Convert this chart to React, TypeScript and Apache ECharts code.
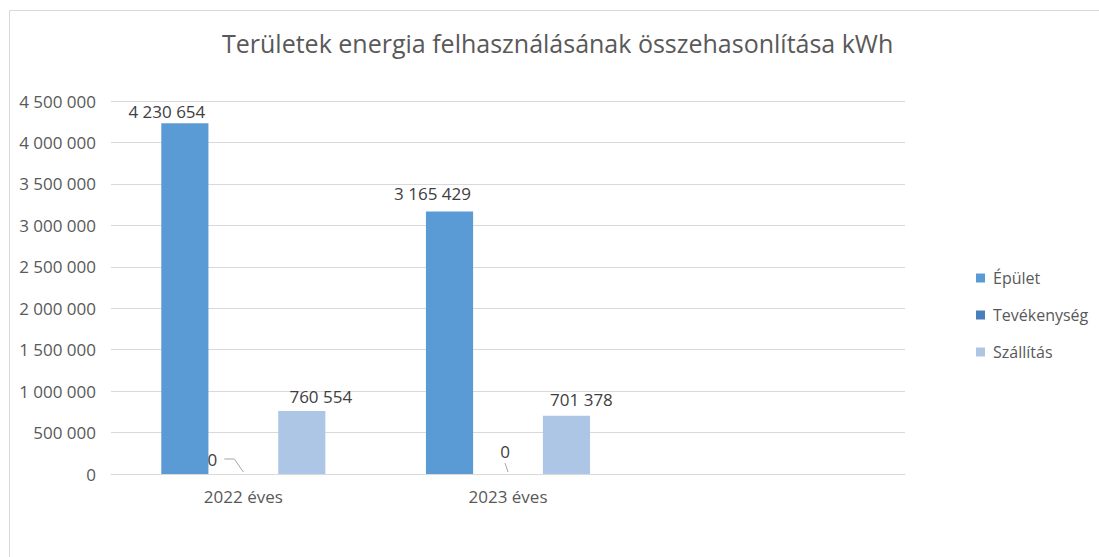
import React, { useEffect, useRef } from "react";
import * as echarts from "echarts";

const categories = ["2022 éves", "2023 éves", ""];
const seriesNames = ["Épület", "Tevékenység", "Szállítás"];
const epulet = [4230654, 3165429, null];
const tevekenyseg = [0, 0, null];
const szallitas = [760554, 701378, null];
const colors = ["#5B9BD5", "#4A7EBB", "#ADC6E6"];
const title = "Területek energia felhasználásának összehasonlítása kWh";

// label placement tweaks (layout, not data)
const epuletLabelOffsets = [[-18, 2], [-17, -5]];
const szallitasLabelOffsets = [[19, -1], [15, -3]];

const fmt = (v: number) => String(Math.round(v)).replace(/\B(?=(\d{3})+(?!\d))/g, " ");

const FONT = "Open Sans";

export default function App() {
  const ref = useRef<HTMLDivElement>(null);
  useEffect(() => {
    const chart = echarts.init(ref.current!, null, { renderer: "svg" });
    const labelStyle = {
      show: true,
      position: "top" as const,
      color: "#404040",
      fontFamily: FONT,
      fontSize: 17,
      formatter: (p: any) => fmt(p.value),
    };
    const withOffsets = (vals: (number | null)[], offs: number[][]) =>
      vals.map((v, i) => (v === null ? null : { value: v, label: { offset: offs[i] } }));
    chart.setOption({
      animation: false,
      color: colors,
      title: {
        text: title,
        left: 217,
        top: 25,
        textStyle: { fontFamily: FONT, fontSize: 25, fontWeight: "normal", color: "#595959" },
      },
      graphic: [
        {
          type: "rect",
          shape: { x: 9.5, y: 10.5, width: 1100, height: 560 },
          style: { fill: "none", stroke: "#D9D9D9", lineWidth: 1 },
          silent: true,
        },
      ],
      legend: {
        orient: "vertical",
        left: 976,
        top: 270,
        padding: 0,
        itemWidth: 9,
        itemHeight: 9,
        itemGap: 21,
        icon: "rect",
        data: seriesNames,
        textStyle: { fontFamily: FONT, fontSize: 16, color: "#595959", lineHeight: 16, padding: [0, 0, 0, 3] },
      },
      grid: { left: 111, right: 194, top: 101, bottom: 83, containLabel: false },
      xAxis: {
        type: "category",
        data: categories,
        axisLine: { lineStyle: { color: "#D9D9D9" } },
        axisTick: { show: false },
        axisLabel: { color: "#595959", fontFamily: FONT, fontSize: 17, margin: 14 },
      },
      yAxis: {
        type: "value",
        min: 0,
        max: 4500000,
        interval: 500000,
        axisLine: { show: false },
        axisTick: { show: false },
        splitLine: { lineStyle: { color: "#D9D9D9" } },
        axisLabel: { color: "#595959", fontFamily: FONT, fontSize: 17, margin: 15, formatter: (v: number) => fmt(v) },
      },
      series: [
        {
          name: seriesNames[0],
          type: "bar",
          data: withOffsets(epulet, epuletLabelOffsets),
          barGap: "24%",
          barCategoryGap: "38%",
          label: labelStyle,
        },
        {
          name: seriesNames[1],
          type: "bar",
          data: tevekenyseg,
          barGap: "24%",
          barCategoryGap: "38%",
          label: { show: false },
        },
        {
          name: seriesNames[2],
          type: "bar",
          data: withOffsets(szallitas, szallitasLabelOffsets),
          barGap: "24%",
          barCategoryGap: "38%",
          label: labelStyle,
        },
        {
          name: "zeroLabels",
          type: "custom",
          silent: true,
          z: 5,
          data: tevekenyseg.map((v, i) => [i, v]).filter((d) => d[1] !== null),
          renderItem: (params: any, api: any) => {
            const idx = api.value(0);
            const pt = api.coord([idx, api.value(1)]);
            const x = pt[0];
            const y = pt[1];
            const txt = fmt(api.value(1));
            if (params.dataIndex === 0) {
              return {
                type: "group",
                children: [
                  {
                    type: "text",
                    style: {
                      x: x - 31,
                      y: y - 15,
                      text: txt,
                      align: "center",
                      verticalAlign: "middle",
                      fontFamily: FONT,
                      fontSize: 17,
                      fill: "#404040",
                    },
                  },
                  {
                    type: "polyline",
                    shape: { points: [[x - 19, y - 15], [x - 9, y - 15], [x, y - 2]] },
                    style: { stroke: "#A6A6A6", lineWidth: 1, fill: "none" },
                  },
                ],
              };
            }
            return {
              type: "group",
              children: [
                {
                  type: "text",
                  style: {
                    x: x - 3,
                    y: y - 23,
                    text: txt,
                    align: "center",
                    verticalAlign: "middle",
                    fontFamily: FONT,
                    fontSize: 17,
                    fill: "#404040",
                  },
                },
                {
                  type: "polyline",
                  shape: { points: [[x - 3, y - 11], [x, y - 2]] },
                  style: { stroke: "#A6A6A6", lineWidth: 1, fill: "none" },
                },
              ],
            };
          },
        },
      ],
    });
    return () => chart.dispose();
  }, []);
  return (
    <div
      ref={ref}
      style={{ position: "fixed", left: 0, top: 0, width: 1099, height: 557, background: "#fff" }}
    />
  );
}
